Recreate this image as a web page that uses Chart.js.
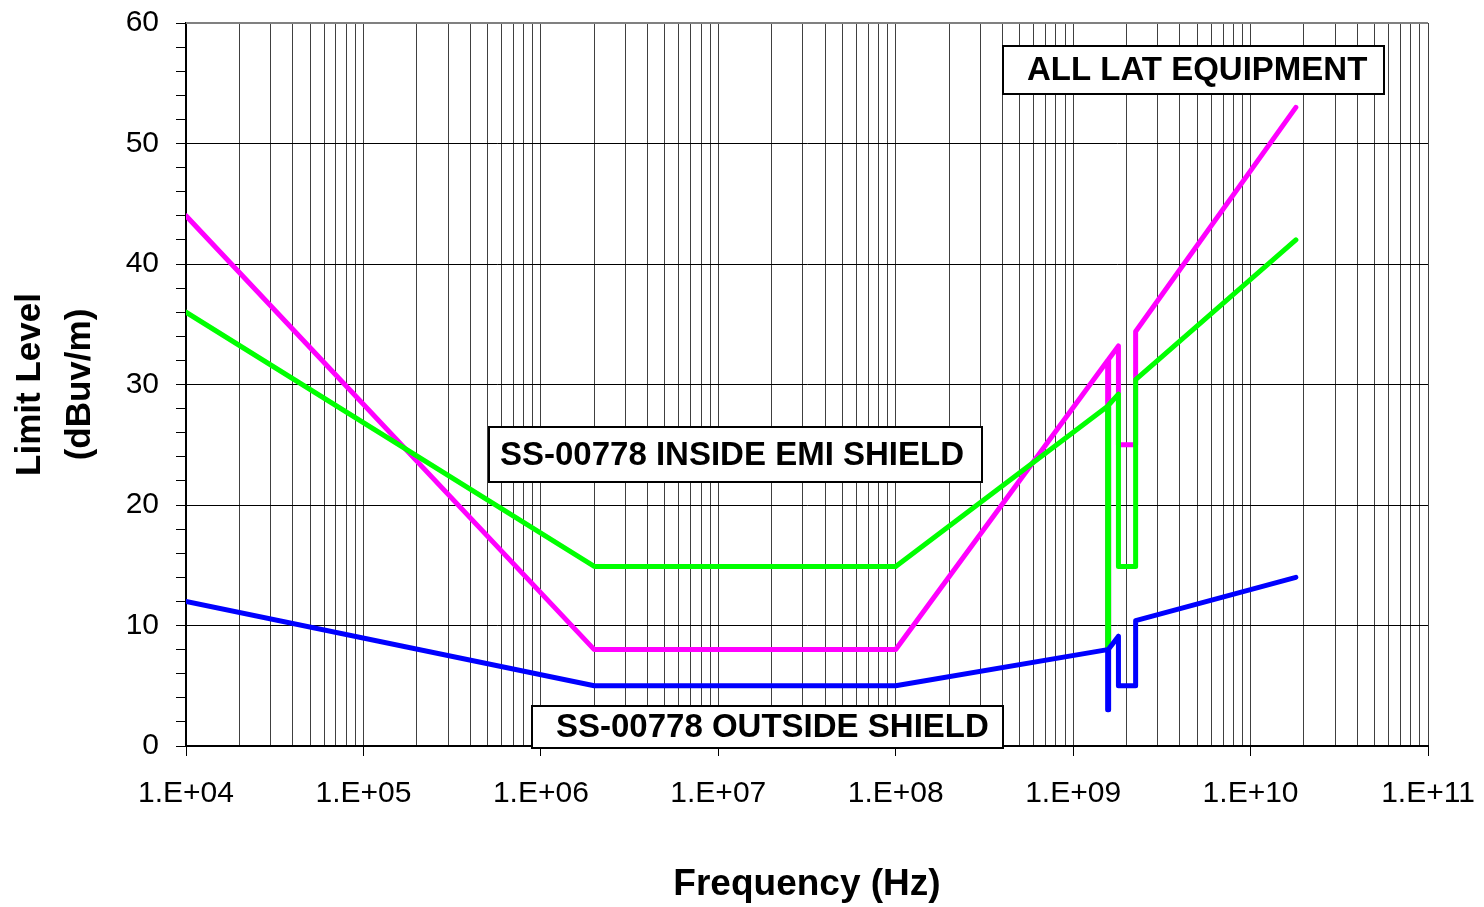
<!DOCTYPE html>
<html>
<head>
<meta charset="utf-8">
<script src="https://cdn.jsdelivr.net/npm/chart.js@4"></script>
<style>
  html, body { margin: 0; padding: 0; background: #fff; }
  #wrap { width: 1484px; height: 907px; position: relative; }
</style>
</head>
<body>
<div id="wrap"><canvas id="c" width="1484" height="907"></canvas></div>
<script>
// ---- Data ----
const magentaFreq  = [1e4, 2e6, 1e8, 1.565e9, 1.565e9, 1.585e9, 1.585e9, 1.8e9, 1.8e9, 2.25e9, 2.25e9, 1.8e10];
const magentaLevel = [44, 8, 8, 32, 8, 8, 32.1, 33.2, 25, 25, 34.4, 53];

const greenFreq  = [1e4, 2e6, 1e8, 1.565e9, 1.565e9, 1.585e9, 1.585e9, 1.8e9, 1.8e9, 2.25e9, 2.25e9, 1.8e10];
const greenLevel = [36, 14.9, 14.9, 28.2, 8, 8, 28.3, 29.2, 14.9, 14.9, 30.4, 42];

const blueFreq  = [1e4, 2e6, 1e8, 1.565e9, 1.565e9, 1.585e9, 1.585e9, 1.8e9, 1.8e9, 2.25e9, 2.25e9, 1.8e10];
const blueLevel = [12, 5, 5, 8, 3, 3, 8.05, 9.1, 5, 5, 10.4, 14];

const xDecades    = [1e4, 1e5, 1e6, 1e7, 1e8, 1e9, 1e10, 1e11];
const xTickLabels = ['1.E+04', '1.E+05', '1.E+06', '1.E+07', '1.E+08', '1.E+09', '1.E+10', '1.E+11'];
const yTickLabels = ['0', '10', '20', '30', '40', '50', '60'];

const annotationTexts = ['ALL LAT EQUIPMENT', 'SS-00778 INSIDE EMI SHIELD', 'SS-00778 OUTSIDE SHIELD'];
const xTitle = 'Frequency (Hz)';
const yTitle = ['Limit Level', '(dBuv/m)'];

function pts(xs, ys) { return xs.map((x, i) => ({ x: x, y: ys[i] })); }

const FONT = "'Liberation Sans', Arial, sans-serif";

// all minor log grid positions
const xGridValues = [];
xDecades.forEach((d, i) => {
  if (i < xDecades.length - 1) { for (let m = 1; m <= 9; m++) xGridValues.push(d * m); }
  else xGridValues.push(d);
});
function isDecade(v) {
  const l = Math.log10(v);
  return Math.abs(l - Math.round(l)) < 1e-9;
}

const boxesPlugin = {
  id: 'boxes',
  afterDatasetsDraw(chart) {
    const ctx = chart.ctx;
    const boxes = [
      { x: 1003, y: 46, w: 381, h: 48, tx: 1027, text: annotationTexts[0] },
      { x: 489, y: 427, w: 493, h: 55, tx: 500, text: annotationTexts[1] },
      { x: 532, y: 706, w: 471, h: 42, tx: 556, text: annotationTexts[2] }
    ];
    ctx.save();
    boxes.forEach(b => {
      ctx.fillStyle = '#fff';
      ctx.fillRect(b.x, b.y, b.w, b.h);
      ctx.lineWidth = 2;
      ctx.strokeStyle = '#000';
      ctx.strokeRect(b.x, b.y, b.w, b.h);
      ctx.fillStyle = '#000';
      ctx.font = "bold 33px " + FONT;
      ctx.textBaseline = 'middle';
      ctx.textAlign = 'left';
      ctx.fillText(b.text, b.tx, b.y + b.h / 2 + 1);
    });
    ctx.restore();
  },
  afterDraw(chart) {
    const a = chart.chartArea, ctx = chart.ctx;
    ctx.save();
    ctx.strokeStyle = '#808080';
    ctx.lineWidth = 2;
    ctx.beginPath();
    ctx.moveTo(a.left, a.top);
    ctx.lineTo(a.right, a.top);
    ctx.stroke();
    ctx.restore();
  }
};

const ds = (label, data, color) => ({
  label, data,
  borderColor: color, backgroundColor: color,
  borderWidth: 5, pointRadius: 0, tension: 0, fill: false,
  borderJoinStyle: 'round', borderCapStyle: 'round'
});

new Chart(document.getElementById('c'), {
  type: 'line',
  data: {
    datasets: [
      ds('Outside shield', pts(blueFreq, blueLevel), '#0000FF'),
      ds('Inside EMI shield', pts(greenFreq, greenLevel), '#00FF00'),
      ds('All LAT equipment', pts(magentaFreq, magentaLevel), '#FF00FF')
    ]
  },
  options: {
    responsive: false,
    animation: false,
    devicePixelRatio: 1,
    layout: { padding: { top: 23, right: 56, left: 0, bottom: 0 } },
    plugins: { legend: { display: false }, tooltip: { enabled: false } },
    scales: {
      x: {
        type: 'logarithmic',
        min: 1e4, max: 1e11,
        afterFit(scale) {
          scale.height = 161;
          scale.paddingLeft = 0; scale.paddingRight = 0;
        },
        afterBuildTicks(scale) { scale.ticks = xGridValues.map(v => ({ value: v, major: isDecade(v) })); },
        ticks: {
          autoSkip: false, maxRotation: 0, minRotation: 0,
          color: '#000', padding: 20,
          font: { family: FONT, size: 30 },
          callback(v) {
            const i = xDecades.findIndex(d => Math.abs(d - v) / d < 1e-9);
            return i >= 0 ? xTickLabels[i] : '';
          }
        },
        grid: {
          color: '#404040', lineWidth: 1, drawTicks: true, tickLength: 10,
          tickColor: c => (c.tick && isDecade(c.tick.value)) ? '#000' : 'rgba(0,0,0,0)'
        },
        border: { color: '#000', width: 2 },
        title: {
          display: true, text: xTitle, color: '#000',
          font: { family: FONT, size: 37, weight: 'bold', lineHeight: 1.2 },
          padding: { top: 0, bottom: 0 }
        }
      },
      y: {
        type: 'linear',
        min: 0, max: 60,
        afterFit(scale) {
          scale.width = 186;
          scale.paddingTop = 0; scale.paddingBottom = 0;
        },
        ticks: {
          autoSkip: false,
          stepSize: 2, color: '#000', padding: 17,
          font: { family: FONT, size: 30 },
          callback(v) { return (v % 10 === 0) ? yTickLabels[v / 10] : ''; }
        },
        grid: {
          color: c => (c.tick && c.tick.value % 10 === 0) ? '#000' : 'rgba(0,0,0,0)',
          lineWidth: 1, drawTicks: true, tickLength: 10, tickColor: '#000'
        },
        border: { color: '#000', width: 2 },
        title: {
          display: true, text: yTitle, color: '#000',
          font: { family: FONT, size: 35, weight: 'bold', lineHeight: 1.43 },
          padding: { top: 5, bottom: 0 }
        }
      }
    }
  },
  plugins: [boxesPlugin]
});
</script>
</body>
</html>
